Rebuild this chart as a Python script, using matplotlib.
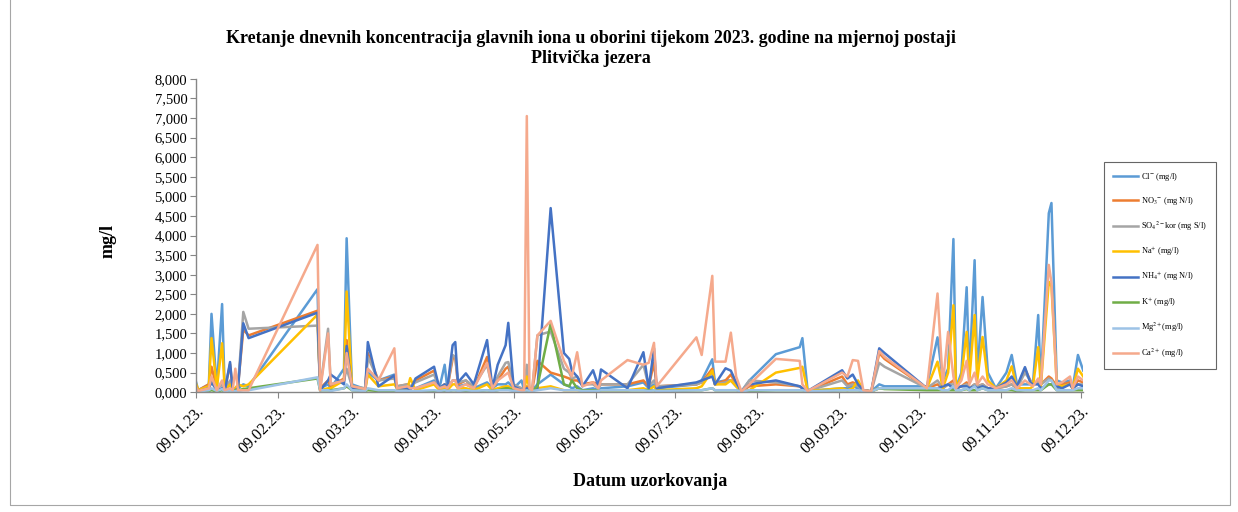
import pandas as pd
import matplotlib
matplotlib.use('Agg')
import matplotlib.pyplot as plt
from matplotlib.patches import Rectangle
from matplotlib.ticker import FuncFormatter, MultipleLocator

plt.rcParams['font.family'] = ['Liberation Serif', 'DejaVu Serif']
plt.rcParams['mathtext.fontset'] = 'stix'

# sampling dates (day of year, 0 = 1 Jan 2023) and daily concentrations
days = [8, 9, 13, 14, 16, 18, 19, 21, 22, 23, 24, 26, 28, 54, 55, 58, 59, 64, 65, 67,
        72, 73, 77, 83, 84, 88, 89, 91, 98, 100, 102, 103, 105, 106, 107, 110, 113, 118, 120, 122,
        125, 126, 128, 131, 132, 133, 134, 135, 137, 142, 147, 149, 150, 152, 154, 158, 160, 161, 171, 177,
        179, 181, 182, 197, 199, 203, 204, 208, 210, 212, 214, 217, 227, 236, 237, 239, 252, 254, 256, 258,
        260, 263, 266, 268, 284, 288, 290, 292, 294, 295, 297, 299, 300, 302, 303, 305, 307, 310, 314, 316,
        318, 321, 323, 324, 326, 327, 330, 331, 333, 335, 338, 339, 341, 343]

cl = [0.30, 0.05, 0.20, 2.00, 0.10, 2.25, 0.05, 0.20, 0.05, 0.05, 0.10, 0.20, 0.15, 2.63, 0.10, 0.20, 0.10, 0.60, 3.93, 0.20,
      0.08, 0.50, 0.30, 0.45, 0.10, 0.10, 0.15, 0.10, 0.30, 0.10, 0.70, 0.10, 0.30, 0.30, 0.15, 0.20, 0.10, 0.25, 0.10, 0.20,
      0.20, 0.25, 0.10, 0.30, 0.05, 0.10, 0.05, 0.05, 0.20, 0.45, 0.20, 0.15, 0.10, 0.15, 0.05, 0.10, 0.05, 0.10, 0.15, 0.25,
      0.10, 0.20, 0.10, 0.20, 0.30, 0.84, 0.25, 0.30, 0.30, 0.15, 0.02, 0.30, 0.97, 1.15, 1.38, 0.03, 0.10, 0.10, 0.15, 0.10,
      0.05, 0.02, 0.20, 0.15, 0.15, 1.40, 0.30, 0.60, 3.91, 0.10, 0.50, 2.68, 0.40, 3.37, 0.40, 2.43, 0.50, 0.10, 0.50, 0.95,
      0.20, 0.20, 0.20, 0.20, 1.97, 0.20, 4.57, 4.83, 0.30, 0.25, 0.30, 0.10, 0.95, 0.55]

no3 = [0.20, 0.05, 0.20, 0.65, 0.10, 0.20, 0.05, 0.72, 0.05, 0.10, 0.15, 1.60, 1.45, 2.08, 0.10, 0.30, 0.15, 0.35, 1.33, 0.15,
       0.08, 1.00, 0.30, 0.40, 0.15, 0.20, 0.10, 0.30, 0.55, 0.10, 0.20, 0.10, 0.85, 0.90, 0.20, 0.30, 0.10, 0.90, 0.10, 0.30,
       0.60, 0.65, 0.15, 0.10, 0.05, 0.15, 0.10, 0.05, 0.80, 0.50, 0.40, 0.35, 0.30, 0.30, 0.20, 0.25, 0.20, 0.20, 0.20, 0.30,
       0.15, 0.75, 0.15, 0.20, 0.25, 0.60, 0.20, 0.30, 0.45, 0.20, 0.02, 0.15, 0.20, 0.15, 0.10, 0.03, 0.40, 0.20, 0.25, 0.20,
       0.05, 0.02, 1.00, 0.85, 0.10, 0.20, 0.10, 0.20, 0.30, 0.10, 0.15, 0.25, 0.10, 0.20, 0.15, 0.20, 0.10, 0.10, 0.15, 0.20,
       0.10, 0.60, 0.30, 0.20, 0.30, 0.20, 0.40, 0.35, 0.15, 0.20, 0.25, 0.10, 0.30, 0.25]

so4 = [0.15, 0.05, 0.15, 0.30, 0.10, 0.20, 0.05, 0.30, 0.05, 0.10, 0.15, 2.05, 1.62, 1.70, 0.10, 1.62, 0.20, 0.30, 0.60, 0.15,
       0.10, 0.90, 0.30, 0.35, 0.15, 0.20, 0.15, 0.25, 0.45, 0.10, 0.20, 0.10, 0.95, 0.90, 0.25, 0.30, 0.15, 0.70, 0.10, 0.40,
       0.75, 0.77, 0.20, 0.10, 0.05, 0.70, 0.10, 0.05, 1.45, 1.55, 0.60, 0.50, 0.35, 0.40, 0.20, 0.20, 0.10, 0.20, 0.20, 0.70,
       0.15, 0.30, 0.15, 0.20, 0.25, 0.50, 0.20, 0.25, 0.30, 0.20, 0.02, 0.30, 0.25, 0.15, 0.10, 0.03, 0.30, 0.15, 0.20, 0.15,
       0.05, 0.02, 0.75, 0.65, 0.10, 0.30, 0.10, 0.20, 0.20, 0.10, 0.15, 0.20, 0.10, 0.20, 0.15, 0.20, 0.10, 0.10, 0.15, 0.20,
       0.10, 0.50, 0.30, 0.20, 0.25, 0.20, 0.35, 0.30, 0.10, 0.15, 0.20, 0.10, 0.20, 0.20]

na = [0.25, 0.05, 0.15, 1.38, 0.10, 1.25, 0.05, 0.20, 0.05, 0.10, 0.20, 0.15, 0.20, 1.98, 0.05, 0.10, 0.10, 0.30, 2.57, 0.15,
      0.05, 0.45, 0.15, 0.20, 0.10, 0.10, 0.36, 0.05, 0.20, 0.05, 0.10, 0.05, 0.20, 0.20, 0.10, 0.10, 0.05, 0.20, 0.05, 0.10,
      0.15, 0.15, 0.05, 0.05, 0.05, 0.40, 0.10, 0.05, 0.10, 0.15, 0.05, 0.05, 0.05, 0.05, 0.03, 0.03, 0.03, 0.05, 0.05, 0.10,
      0.05, 0.15, 0.05, 0.10, 0.15, 0.55, 0.20, 0.20, 0.30, 0.15, 0.02, 0.05, 0.50, 0.62, 0.65, 0.03, 0.10, 0.05, 0.10, 0.30,
      0.05, 0.02, 0.10, 0.10, 0.10, 0.78, 0.10, 0.50, 2.22, 0.10, 0.40, 1.54, 0.30, 1.97, 0.30, 1.41, 0.30, 0.10, 0.30, 0.66,
      0.10, 0.10, 0.10, 0.15, 1.15, 0.15, 2.82, 2.70, 0.20, 0.15, 0.20, 0.10, 0.60, 0.40]

nh4 = [0.10, 0.02, 0.10, 0.25, 0.05, 0.10, 0.02, 0.77, 0.05, 0.05, 0.10, 1.76, 1.38, 2.03, 0.05, 0.30, 0.45, 0.20, 1.18, 0.10,
       0.05, 1.28, 0.15, 0.43, 0.10, 0.10, 0.05, 0.35, 0.65, 0.10, 0.20, 0.10, 1.20, 1.28, 0.25, 0.48, 0.20, 1.33, 0.10, 0.70,
       1.20, 1.77, 0.15, 0.05, 0.05, 0.10, 0.05, 0.05, 0.10, 4.70, 1.00, 0.85, 0.55, 0.40, 0.15, 0.56, 0.15, 0.58, 0.10, 1.02,
       0.10, 1.12, 0.10, 0.25, 0.30, 0.40, 0.20, 0.61, 0.55, 0.25, 0.02, 0.20, 0.30, 0.15, 0.10, 0.03, 0.56, 0.35, 0.45, 0.20,
       0.05, 0.02, 1.12, 1.00, 0.10, 0.10, 0.15, 0.20, 0.10, 0.10, 0.15, 0.15, 0.10, 0.15, 0.10, 0.15, 0.10, 0.10, 0.25, 0.40,
       0.15, 0.64, 0.25, 0.20, 0.20, 0.10, 0.20, 0.20, 0.15, 0.10, 0.20, 0.10, 0.20, 0.15]

k = [0.05, 0.02, 0.03, 0.05, 0.02, 0.05, 0.02, 0.05, 0.05, 0.05, 0.05, 0.08, 0.10, 0.35, 0.05, 0.05, 0.05, 0.10, 0.15, 0.05,
     0.03, 0.05, 0.03, 0.03, 0.03, 0.02, 0.02, 0.02, 0.03, 0.02, 0.03, 0.02, 0.05, 0.05, 0.03, 0.03, 0.02, 0.05, 0.03, 0.05,
     0.10, 0.10, 0.05, 0.02, 0.02, 0.05, 0.03, 0.02, 0.15, 1.75, 0.20, 0.15, 0.30, 0.10, 0.05, 0.05, 0.03, 0.05, 0.05, 0.05,
     0.05, 0.05, 0.03, 0.05, 0.05, 0.10, 0.05, 0.05, 0.05, 0.05, 0.02, 0.03, 0.05, 0.05, 0.05, 0.02, 0.05, 0.05, 0.05, 0.05,
     0.03, 0.02, 0.10, 0.08, 0.05, 0.05, 0.05, 0.05, 0.05, 0.05, 0.05, 0.08, 0.05, 0.05, 0.05, 0.10, 0.05, 0.05, 0.05, 0.05,
     0.03, 0.05, 0.05, 0.05, 0.05, 0.05, 0.20, 0.20, 0.05, 0.05, 0.05, 0.05, 0.05, 0.05]

mg = [0.05, 0.02, 0.05, 0.10, 0.03, 0.08, 0.02, 0.05, 0.03, 0.03, 0.03, 0.05, 0.05, 0.38, 0.05, 0.05, 0.03, 0.10, 0.20, 0.05,
      0.03, 0.10, 0.05, 0.05, 0.03, 0.03, 0.03, 0.03, 0.05, 0.03, 0.05, 0.03, 0.05, 0.05, 0.03, 0.05, 0.03, 0.05, 0.03, 0.05,
      0.05, 0.05, 0.03, 0.03, 0.03, 0.05, 0.03, 0.03, 0.05, 0.10, 0.05, 0.05, 0.05, 0.05, 0.03, 0.03, 0.03, 0.05, 0.05, 0.05,
      0.03, 0.05, 0.03, 0.05, 0.05, 0.10, 0.05, 0.05, 0.05, 0.05, 0.02, 0.05, 0.05, 0.05, 0.05, 0.02, 0.05, 0.05, 0.05, 0.05,
      0.03, 0.02, 0.10, 0.10, 0.10, 0.10, 0.05, 0.05, 0.15, 0.05, 0.05, 0.10, 0.05, 0.15, 0.05, 0.10, 0.05, 0.05, 0.05, 0.10,
      0.05, 0.05, 0.05, 0.05, 0.10, 0.05, 0.30, 0.30, 0.05, 0.05, 0.05, 0.05, 0.10, 0.10]

ca = [0.15, 0.03, 0.10, 0.40, 0.05, 0.30, 0.05, 0.10, 0.05, 0.60, 0.05, 0.05, 0.05, 3.76, 0.05, 1.50, 0.20, 0.30, 1.00, 0.15,
      0.08, 0.60, 0.30, 1.12, 0.10, 0.15, 0.10, 0.10, 0.25, 0.10, 0.15, 0.10, 0.30, 0.30, 0.10, 0.20, 0.10, 0.75, 0.10, 0.30,
      0.45, 0.50, 0.10, 0.05, 0.05, 7.05, 0.10, 0.05, 1.45, 1.82, 0.80, 0.55, 0.40, 1.02, 0.15, 0.25, 0.10, 0.30, 0.82, 0.70,
      0.75, 1.26, 0.15, 1.40, 0.95, 2.97, 0.78, 0.78, 1.52, 0.40, 0.02, 0.20, 0.85, 0.80, 0.20, 0.03, 0.50, 0.40, 0.82, 0.80,
      0.05, 0.02, 1.05, 0.90, 0.10, 2.52, 0.20, 1.54, 0.40, 0.10, 0.30, 0.80, 0.20, 0.50, 0.20, 0.40, 0.20, 0.10, 0.20, 0.30,
      0.10, 0.30, 0.20, 0.15, 0.35, 0.20, 3.25, 2.80, 0.20, 0.25, 0.40, 0.10, 0.40, 0.30]

labels = ['Cl$^{-}$ (mg/l)', 'NO$_{3}$$^{-}$ (mg N/l)', 'SO$_{4}$$^{2-}$kor (mg S/l)', 'Na$^{+}$ (mg/l)',
          'NH$_{4}$$^{+}$ (mg N/l)', 'K$^{+}$ (mg/l)', 'Mg$^{2+}$(mg/l)', 'Ca$^{2+}$ (mg/l)']
colors = ['#5B9BD5', '#ED7D31', '#A5A5A5', '#FFC000', '#4472C4', '#70AD47', '#9DC3E6', '#F5A98C']
series = [cl, no3, so4, na, nh4, k, mg, ca]

dates = pd.Timestamp('2023-01-01') + pd.to_timedelta(days, unit='D')

fig = plt.figure(figsize=(12.38, 5.12), dpi=100)
ax = fig.add_axes([0.158, 0.234, 0.717, 0.612])

for vals, lab, col in zip(series, labels, colors):
    ax.plot(dates, vals, color=col, lw=1.8, label=lab, solid_joinstyle='round')

ax.set_ylim(0, 8)
ax.set_xlim(dates[0], dates[-1])
ax.yaxis.set_major_locator(MultipleLocator(0.5))
ax.yaxis.set_major_formatter(FuncFormatter(lambda v, p: f'{v:.3f}'.replace('.', ',')))

# monthly ticks on the 9th
ticks = pd.date_range('2023-01-01', '2023-12-01', freq='MS') + pd.Timedelta(days=8)
ax.set_xticks(ticks)
ax.set_xticklabels([t.strftime('%d.%m.%y.') for t in ticks], rotation=45, ha='right',
                   rotation_mode='anchor', fontsize=11.5)
ax.tick_params(axis='y', labelsize=10.5, length=4, color='#868686', pad=2)
ax.tick_params(axis='x', length=4, color='#868686', pad=4)

for s in ['top', 'right']:
    ax.spines[s].set_visible(False)
for s in ['left', 'bottom']:
    ax.spines[s].set_color('#868686')
    ax.spines[s].set_linewidth(1.0)

fig.text(0.477, 0.906, 'Kretanje dnevnih koncentracija glavnih iona u oborini tijekom 2023. godine na mjernoj postaji\nPlitvička jezera',
         ha='center', va='center', fontsize=13, fontweight='bold', linespacing=1.25)
fig.text(0.087, 0.53, 'mg/l', rotation=90, ha='center', va='center', fontsize=13, fontweight='bold')
fig.text(0.525, 0.06, 'Datum uzorkovanja', ha='center', va='center', fontsize=13, fontweight='bold')

leg = fig.legend(loc='upper left', bbox_to_anchor=(0.892, 0.684), fontsize=6, frameon=True,
                 fancybox=False, edgecolor='#404040', handlelength=3.0, labelspacing=1.45,
                 borderpad=1.1, handletextpad=0.3, borderaxespad=0)
leg.get_frame().set_linewidth(0.8)

fig.patches.append(Rectangle((10 / 1238, 7 / 512), 1220 / 1238, 1.02, transform=fig.transFigure,
                             fill=False, edgecolor='#A6A6A6', lw=0.8))

fig.savefig('out.png', dpi=100)
